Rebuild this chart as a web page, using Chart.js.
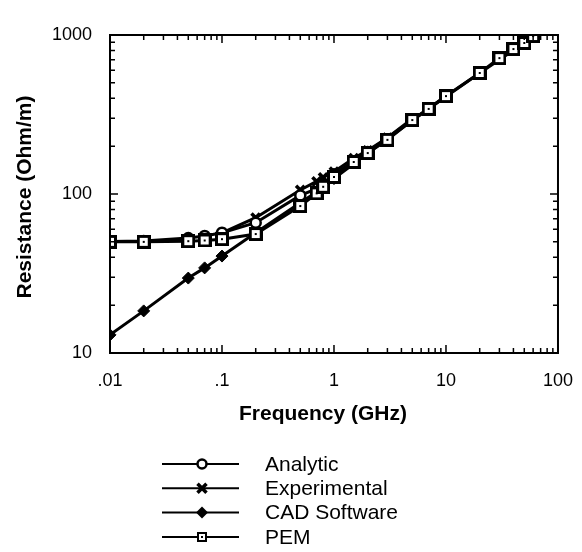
<!DOCTYPE html>
<html>
<head>
<meta charset="utf-8">
<script src="https://cdn.jsdelivr.net/npm/chart.js@4.4.0/dist/chart.umd.min.js"></script>
<style>
html, body { margin: 0; padding: 0; background: #fff; }
</style>
</head>
<body>
<canvas id="myChart" width="582" height="552"></canvas>
<script>
// values (GHz, Ohm/m)
const pemFreq = [0.01, 0.02, 0.05, 0.07, 0.1, 0.2, 0.5, 0.7, 0.8, 1, 1.5, 2, 3, 5, 7, 10, 20, 30, 40, 50, 60];
const pemRes = [50, 50, 50.5, 51, 52, 56, 84, 101, 111, 128, 159, 181, 219, 292, 343, 413, 577, 716, 816, 891, 985];

const analyticFreq = [0.01, 0.02, 0.05, 0.07, 0.1, 0.2, 0.5, 0.8, 1, 2, 5, 10];
const analyticRes = [50.2, 50.6, 52.8, 54.5, 57, 66, 98, 112, 133, 184, 292, 413];

const expFreq = [0.1, 0.2, 0.5, 0.7, 0.8, 1, 1.5, 2, 3, 5];
const expRes = [57, 71, 106, 120, 127, 138, 168, 188, 226, 298];

const cadFreq = [0.01, 0.02, 0.05, 0.07, 0.1, 0.2, 0.5, 0.7, 1, 2, 5, 10, 20, 50];
const cadRes = [13, 18.4, 29.6, 34.3, 40.7, 57, 88, 103, 125, 180, 290, 410, 577, 891];

const xTickValues = [0.01, 0.1, 1, 10, 100];
const xTickLabels = ['.01', '.1', '1', '10', '100'];
const yTickValues = [10, 100, 1000];
const yTickLabels = ['10', '100', '1000'];

const legendNames = ['Analytic', 'Experimental', 'CAD Software', 'PEM'];

function toPoints(xs, ys) {
    return xs.map((v, i) => ({ x: v, y: ys[i] }));
}

// square marker with a dot in the middle
function squareDot() {
    const c = document.createElement('canvas');
    c.width = 14; c.height = 14;
    const g = c.getContext('2d');
    g.fillStyle = '#000';
    g.fillRect(0, 0, 14, 14);
    g.fillStyle = '#fff';
    g.fillRect(3, 3, 8, 8);
    g.fillStyle = '#000';
    g.fillRect(6, 6, 2, 2);
    return c;
}
const pemMarker = squareDot();

function drawMarker(ctx, kind, x, y) {
    ctx.save();
    ctx.strokeStyle = '#000';
    ctx.fillStyle = '#000';
    if (kind === 0) {
        ctx.lineWidth = 2.5;
        ctx.fillStyle = '#fff';
        ctx.beginPath();
        ctx.arc(x, y, 4.5, 0, Math.PI * 2);
        ctx.fill();
        ctx.stroke();
    } else if (kind === 1) {
        ctx.lineWidth = 3.5;
        ctx.beginPath();
        ctx.moveTo(x - 4.5, y - 4.5); ctx.lineTo(x + 4.5, y + 4.5);
        ctx.moveTo(x + 4.5, y - 4.5); ctx.lineTo(x - 4.5, y + 4.5);
        ctx.stroke();
    } else if (kind === 2) {
        ctx.beginPath();
        ctx.moveTo(x, y - 6); ctx.lineTo(x + 6, y); ctx.lineTo(x, y + 6); ctx.lineTo(x - 6, y);
        ctx.closePath();
        ctx.fill();
    } else {
        ctx.fillRect(Math.round(x) - 5, Math.round(y) - 5, 10, 10);
        ctx.fillStyle = '#fff';
        ctx.fillRect(Math.round(x) - 3, Math.round(y) - 3, 6, 6);
        ctx.fillStyle = '#000';
        ctx.fillRect(Math.round(x) - 1, Math.round(y) - 1, 2, 2);
    }
    ctx.restore();
}

const decorPlugin = {
    id: 'decor',
    afterDraw(chart) {
        const ctx = chart.ctx;
        const { left, right, top, bottom } = chart.chartArea;
        const xs = chart.scales.x, ys = chart.scales.y;
        ctx.save();
        ctx.strokeStyle = '#000';
        ctx.lineWidth = 2;
        ctx.strokeRect(left, top, right - left, bottom - top);

        // inside ticks on all four sides
        ctx.lineWidth = 1.5;
        ctx.beginPath();
        [0.01, 0.1, 1, 10].forEach(d => {
            for (let m = 1; m <= 10; m++) {
                const px = xs.getPixelForValue(d * m);
                const len = (m === 1 || m === 10) ? 8 : 5;
                ctx.moveTo(px, bottom); ctx.lineTo(px, bottom - len);
                ctx.moveTo(px, top); ctx.lineTo(px, top + len);
            }
        });
        [10, 100].forEach(d => {
            for (let m = 1; m <= 10; m++) {
                const py = ys.getPixelForValue(d * m);
                const len = (m === 1 || m === 10) ? 8 : 5;
                ctx.moveTo(left, py); ctx.lineTo(left + len, py);
                ctx.moveTo(right, py); ctx.lineTo(right - len, py);
            }
        });
        ctx.stroke();

        // axis titles
        ctx.fillStyle = '#000';
        ctx.font = 'bold 21px "Liberation Sans", Arial, sans-serif';
        ctx.textAlign = 'center';
        ctx.textBaseline = 'middle';
        ctx.fillText('Frequency (GHz)', 323, 414);
        ctx.save();
        ctx.translate(25, 197);
        ctx.rotate(-Math.PI / 2);
        ctx.fillText('Resistance (Ohm/m)', 0, 0);
        ctx.restore();

        // legend
        ctx.font = '21px "Liberation Sans", Arial, sans-serif';
        ctx.textAlign = 'left';
        legendNames.forEach((name, i) => {
            const ry = 464 + i * 24.3;
            ctx.lineWidth = 2;
            ctx.beginPath();
            ctx.moveTo(162, ry); ctx.lineTo(239, ry);
            ctx.stroke();
            drawMarker(ctx, i, 202, ry);
            ctx.fillText(name, 265, ry + 1);
        });
        ctx.restore();
    }
};

const base = { borderColor: '#000', borderWidth: 3, tension: 0, fill: false };

new Chart(document.getElementById('myChart').getContext('2d'), {
    type: 'line',
    data: {
        datasets: [
            Object.assign({ label: 'PEM', data: toPoints(pemFreq, pemRes), pointStyle: pemMarker }, base),
            Object.assign({ label: 'Analytic', data: toPoints(analyticFreq, analyticRes), pointStyle: 'circle',
                pointRadius: 5, pointBackgroundColor: '#fff', pointBorderColor: '#000', pointBorderWidth: 2.5 }, base),
            Object.assign({ label: 'Experimental', data: toPoints(expFreq, expRes), pointStyle: 'crossRot',
                pointRadius: 6, pointBorderColor: '#000', pointBorderWidth: 3.5 }, base),
            Object.assign({ label: 'CAD Software', data: toPoints(cadFreq, cadRes), pointStyle: 'rectRot',
                pointRadius: 6, pointBackgroundColor: '#000', pointBorderColor: '#000', pointBorderWidth: 1 }, base)
        ]
    },
    options: {
        responsive: false,
        animation: false,
        layout: { padding: { top: 35, right: 23, left: 0, bottom: 0 } },
        scales: {
            x: {
                type: 'logarithmic',
                position: 'bottom',
                min: 0.01,
                max: 100,
                grid: { display: false },
                border: { display: false },
                afterBuildTicks: scale => { scale.ticks = xTickValues.map(v => ({ value: v })); },
                afterFit: scale => { scale.height = 199; },
                ticks: {
                    autoSkip: false,
                    maxRotation: 0,
                    padding: 9,
                    color: '#000',
                    font: { family: '"Liberation Sans", Arial, sans-serif', size: 18 },
                    callback: (v, i) => xTickLabels[i]
                }
            },
            y: {
                type: 'logarithmic',
                min: 10,
                max: 1000,
                grid: { display: false },
                border: { display: false },
                afterBuildTicks: scale => { scale.ticks = yTickValues.map(v => ({ value: v })); },
                afterFit: scale => { scale.width = 110; },
                ticks: {
                    autoSkip: false,
                    padding: 10,
                    color: '#000',
                    font: { family: '"Liberation Sans", Arial, sans-serif', size: 18 },
                    callback: (v, i) => yTickLabels[i]
                }
            }
        },
        plugins: {
            legend: { display: false },
            tooltip: { enabled: false }
        }
    },
    plugins: [decorPlugin]
});
</script>
</body>
</html>
